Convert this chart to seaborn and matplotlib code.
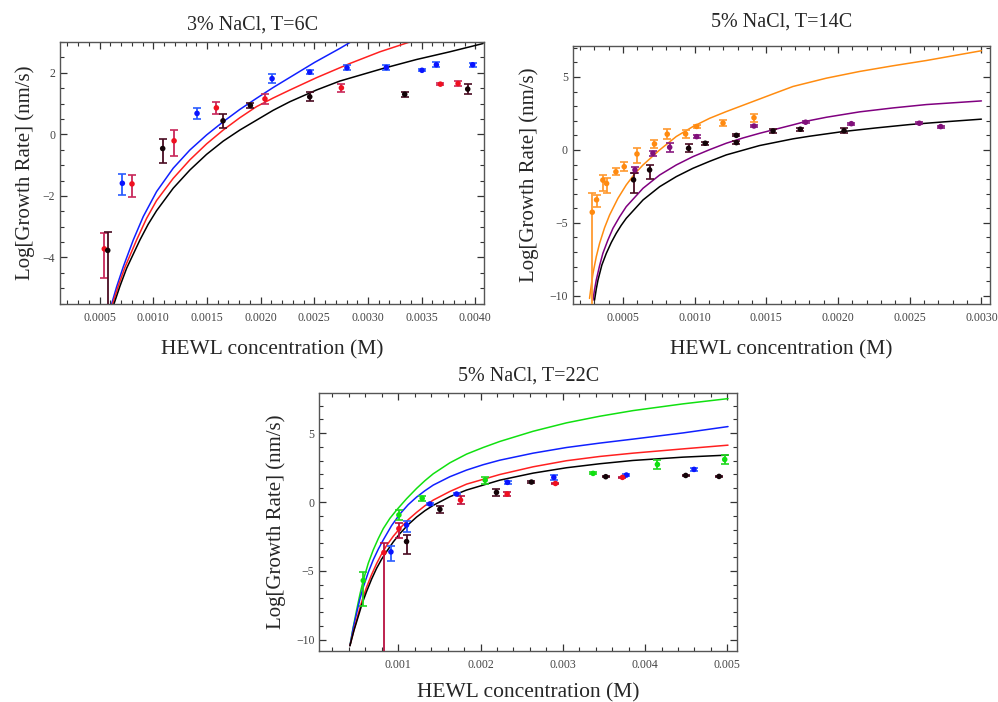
import numpy as np
import pandas as pd
import matplotlib
matplotlib.use("Agg")
import matplotlib.pyplot as plt
from matplotlib.ticker import MultipleLocator, FixedLocator
import seaborn as sns

# ---------------- Panel 1: 3% NaCl, T=6C ----------------
p1_title = "3% NaCl, T=6C"
p1_blue_x = [0.000711, 0.001407, 0.002106, 0.002457, 0.002804, 0.003171, 0.003503, 0.003637, 0.003975]
p1_blue_y = [-1.59, 0.68, 1.81, 2.02, 2.16, 2.17, 2.08, 2.26, 2.26]
p1_blue_lo = [-1.98, 0.49, 1.66, 1.95, 2.08, 2.09, 2.05, 2.18, 2.19]
p1_blue_hi = [-1.29, 0.87, 1.96, 2.09, 2.24, 2.25, 2.11, 2.34, 2.33]

p1_red_x = [0.000543, 0.000801, 0.001193, 0.001587, 0.002040, 0.002752, 0.003674, 0.003839]
p1_red_y = [-3.72, -1.61, -0.21, 0.86, 1.15, 1.51, 1.63, 1.65]
p1_red_lo = [-4.67, -2.02, -0.70, 0.67, 0.99, 1.39, 1.60, 1.57]
p1_red_hi = [-3.21, -1.32, 0.14, 1.05, 1.31, 1.63, 1.66, 1.73]

p1_dark_x = [0.000575, 0.001087, 0.001649, 0.001904, 0.002457, 0.003342, 0.003929]
p1_dark_y = [-3.77, -0.46, 0.44, 0.94, 1.22, 1.30, 1.47]
p1_dark_lo = [-6.0, -0.94, 0.22, 0.86, 1.07, 1.22, 1.31]
p1_dark_hi = [-3.16, -0.16, 0.66, 1.02, 1.37, 1.38, 1.63]

p1_curve_blue_x = [0.000611, 0.000658, 0.000720, 0.000813, 0.000906, 0.001030, 0.001185, 0.001340,
                   0.001496, 0.001651, 0.001806, 0.001961, 0.002116, 0.002272, 0.002504, 0.002737, 0.002839]
p1_curve_blue_y = [-5.51, -4.95, -4.30, -3.43, -2.67, -1.86, -1.10, -0.51,
                   -0.02, 0.41, 0.81, 1.17, 1.52, 1.85, 2.34, 2.79, 3.00]
p1_curve_red_x = [0.000620, 0.000673, 0.000735, 0.000844, 0.000937, 0.001030, 0.001185, 0.001340, 0.001496,
                  0.001651, 0.001806, 0.001961, 0.002116, 0.002272, 0.002520, 0.002830, 0.003110, 0.003389]
p1_curve_red_y = [-5.51, -4.93, -4.32, -3.43, -2.73, -2.15, -1.43, -0.83, -0.31,
                  0.14, 0.54, 0.90, 1.18, 1.44, 1.84, 2.30, 2.68, 3.00]
p1_curve_black_x = [0.000633, 0.000689, 0.000751, 0.000875, 0.000952, 0.001030, 0.001185, 0.001340, 0.001496, 0.001651,
                    0.001806, 0.001961, 0.002116, 0.002272, 0.002520, 0.002737, 0.003140, 0.003451, 0.003761, 0.004072]
p1_curve_black_y = [-5.51, -4.93, -4.35, -3.43, -2.92, -2.48, -1.75, -1.16, -0.65, -0.22,
                    0.14, 0.46, 0.78, 1.06, 1.44, 1.73, 2.14, 2.43, 2.68, 2.95]

p1_xticks = [0.0005, 0.0010, 0.0015, 0.0020, 0.0025, 0.0030, 0.0035, 0.0040]
p1_xticklabels = ["0.0005", "0.0010", "0.0015", "0.0020", "0.0025", "0.0030", "0.0035", "0.0040"]
p1_yticks = [-4, -2, 0, 2]
p1_yticklabels = ["\u22124", "\u22122", "0", "2"]

# ---------------- Panel 2: 5% NaCl, T=14C ----------------
p2_title = "5% NaCl, T=14C"
p2_orange_x = [0.000286, 0.000316, 0.000360, 0.000386, 0.000451, 0.000509, 0.000598, 0.000720, 0.000809, 0.000937, 0.001014, 0.001198, 0.001414]
p2_orange_y = [-4.27, -3.42, -2.07, -2.30, -1.50, -1.15, -0.28, 0.41, 1.08, 1.10, 1.61, 1.84, 2.21]
p2_orange_lo = [-11.0, -3.92, -2.81, -2.94, -1.73, -1.45, -0.92, 0.11, 0.75, 0.80, 1.53, 1.66, 1.93]
p2_orange_hi = [-2.97, -3.07, -1.73, -1.91, -1.27, -0.85, 0.16, 0.71, 1.41, 1.40, 1.69, 2.02, 2.49]

p2_purple_x = [0.000584, 0.000709, 0.000826, 0.001014, 0.001414, 0.001774, 0.002093, 0.002567, 0.002716]
p2_purple_y = [-1.37, -0.23, 0.18, 0.91, 1.64, 1.90, 1.80, 1.83, 1.60]
p2_purple_lo = [-1.57, -0.41, -0.12, 0.83, 1.54, 1.84, 1.72, 1.76, 1.53]
p2_purple_hi = [-1.17, -0.05, 0.48, 0.99, 1.74, 1.96, 1.88, 1.90, 1.67]

p2_dark_x = [0.000574, 0.000686, 0.000958, 0.001074, 0.001291, 0.001291, 0.001547, 0.001737, 0.002042]
p2_dark_y = [-2.05, -1.37, 0.11, 0.46, 1.00, 0.50, 1.30, 1.42, 1.32]
p2_dark_lo = [-2.92, -2.00, -0.17, 0.36, 0.94, 0.38, 1.17, 1.32, 1.17]
p2_dark_hi = [-1.60, -1.03, 0.39, 0.56, 1.06, 0.62, 1.43, 1.52, 1.47]

p2_curve_orange_x = [0.000267, 0.000279, 0.000291, 0.000314, 0.000337, 0.000372, 0.000407, 0.000465, 0.000523,
                     0.000581, 0.000640, 0.000756, 0.000872, 0.000988, 0.001105, 0.001221, 0.001407, 0.001547,
                     0.001686, 0.001919, 0.002151, 0.002384, 0.002616, 0.003000]
p2_curve_orange_y = [-10.18, -9.29, -8.47, -7.32, -6.41, -5.33, -4.46, -3.32, -2.40,
                     -1.65, -1.03, 0.00, 0.92, 1.60, 2.17, 2.63, 3.32, 3.84,
                     4.35, 4.92, 5.38, 5.77, 6.13, 6.80]
p2_curve_purple_x = [0.000291, 0.000302, 0.000314, 0.000337, 0.000360, 0.000395, 0.000430, 0.000477, 0.000523,
                     0.000640, 0.000756, 0.000872, 0.000988, 0.001105, 0.001221, 0.001337, 0.001453, 0.001686,
                     0.001790, 0.001919, 0.002151, 0.002384, 0.002616, 0.003000]
p2_curve_purple_y = [-10.30, -9.57, -8.92, -7.94, -7.09, -6.18, -5.38, -4.58, -3.89,
                     -2.63, -1.72, -1.03, -0.46, 0.02, 0.46, 0.82, 1.14, 1.72,
                     1.99, 2.24, 2.61, 2.88, 3.11, 3.36]
p2_curve_black_x = [0.000302, 0.000314, 0.000326, 0.000353, 0.000384, 0.000419, 0.000453, 0.000488, 0.000523,
                    0.000640, 0.000756, 0.000872, 0.000988, 0.001105, 0.001221, 0.001453, 0.001686,
                    0.001802, 0.002035, 0.002267, 0.002500, 0.002733, 0.003000]
p2_curve_black_y = [-10.30, -9.54, -8.92, -7.89, -7.09, -6.34, -5.72, -5.17, -4.69,
                    -3.43, -2.52, -1.83, -1.26, -0.78, -0.34, 0.30, 0.76,
                    0.94, 1.26, 1.51, 1.74, 1.92, 2.11]

p2_xticks = [0.0005, 0.0010, 0.0015, 0.0020, 0.0025, 0.0030]
p2_xticklabels = ["0.0005", "0.0010", "0.0015", "0.0020", "0.0025", "0.0030"]
p2_yticks = [-10, -5, 0, 5]
p2_yticklabels = ["\u221210", "\u22125", "0", "5"]

# ---------------- Panel 3: 5% NaCl, T=22C ----------------
p3_title = "5% NaCl, T=22C"
p3_green_x = [0.000575, 0.001008, 0.001291, 0.002057, 0.003368, 0.004150, 0.004968]
p3_green_y = [-5.70, -0.94, 0.27, 1.59, 2.08, 2.73, 3.09]
p3_green_lo = [-7.58, -1.30, 0.07, 1.34, 2.00, 2.38, 2.74]
p3_green_hi = [-5.10, -0.58, 0.47, 1.84, 2.16, 3.08, 3.44]

p3_blue_x = [0.000911, 0.001101, 0.001385, 0.001709, 0.002328, 0.002891, 0.003773, 0.004595]
p3_blue_y = [-3.62, -1.67, -0.14, 0.58, 1.43, 1.79, 1.96, 2.37]
p3_blue_lo = [-4.30, -2.15, -0.19, 0.53, 1.33, 1.59, 1.91, 2.27]
p3_blue_hi = [-3.19, -1.35, -0.09, 0.63, 1.53, 1.99, 2.01, 2.47]

p3_red_x = [0.000826, 0.001008, 0.001757, 0.002324, 0.002911, 0.003725]
p3_red_y = [-3.67, -1.93, 0.14, 0.58, 1.35, 1.79]
p3_red_lo = [-12.0, -2.63, -0.16, 0.43, 1.30, 1.74]
p3_red_hi = [-2.95, -1.55, 0.44, 0.73, 1.40, 1.84]

p3_dark_x = [0.001101, 0.001506, 0.002194, 0.002619, 0.003522, 0.004494, 0.004899]
p3_dark_y = [-2.87, -0.53, 0.70, 1.45, 1.84, 1.93, 1.86]
p3_dark_lo = [-3.77, -0.78, 0.45, 1.40, 1.79, 1.88, 1.81]
p3_dark_hi = [-2.39, -0.28, 0.95, 1.50, 1.89, 1.98, 1.91]

p3_curve_green_x = [0.000413, 0.000453, 0.000494, 0.000534, 0.000575, 0.000636, 0.000696, 0.000757, 0.000818,
                    0.000899, 0.000980, 0.001101, 0.001223, 0.001324, 0.001425, 0.001628, 0.001830, 0.002032,
                    0.002235, 0.002640, 0.003045, 0.003449, 0.003854, 0.004462, 0.005008]
p3_curve_green_y = [-10.43, -9.08, -7.85, -6.71, -5.68, -4.44, -3.48, -2.66, -1.93,
                    -1.18, -0.58, 0.24, 0.99, 1.55, 2.05, 2.85, 3.48, 3.96,
                    4.40, 5.14, 5.75, 6.23, 6.64, 7.13, 7.51]
p3_curve_blue_x = [0.000413, 0.000453, 0.000494, 0.000534, 0.000575, 0.000636, 0.000696, 0.000757, 0.000818,
                   0.000919, 0.001020, 0.001121, 0.001223, 0.001324, 0.001425, 0.001628, 0.001830, 0.002032,
                   0.002235, 0.002640, 0.003045, 0.003449, 0.003854, 0.004462, 0.005008]
p3_curve_blue_y = [-10.43, -9.15, -8.07, -7.05, -6.18, -5.10, -4.20, -3.43, -2.75,
                   -1.71, -0.87, -0.19, 0.36, 0.82, 1.23, 1.84, 2.32, 2.71,
                   3.04, 3.55, 3.96, 4.28, 4.57, 5.02, 5.48]
p3_curve_red_x = [0.000413, 0.000462, 0.000514, 0.000563, 0.000615, 0.000676, 0.000737, 0.000798, 0.000858,
                  0.000939, 0.001020, 0.001121, 0.001223, 0.001324, 0.001425, 0.001628, 0.001830,
                  0.002235, 0.002640, 0.003045, 0.003449, 0.003854, 0.004462, 0.005008]
p3_curve_red_y = [-10.43, -9.28, -8.12, -7.10, -6.18, -5.27, -4.47, -3.77, -3.16,
                  -2.49, -1.91, -1.28, -0.75, -0.27, 0.14, 0.77, 1.30,
                  2.00, 2.56, 3.00, 3.31, 3.55, 3.86, 4.13]
p3_curve_black_x = [0.000413, 0.000462, 0.000514, 0.000563, 0.000615, 0.000676, 0.000737, 0.000798, 0.000858,
                    0.000939, 0.001020, 0.001121, 0.001223, 0.001324, 0.001425, 0.001628, 0.001830,
                    0.002235, 0.002640, 0.003045, 0.003449, 0.003854, 0.004462, 0.005008]
p3_curve_black_y = [-10.43, -9.32, -8.31, -7.34, -6.50, -5.60, -4.81, -4.15, -3.60,
                    -2.90, -2.29, -1.64, -1.09, -0.63, -0.24, 0.39, 0.87,
                    1.59, 2.10, 2.49, 2.78, 3.02, 3.26, 3.41]

p3_xticks = [0.001, 0.002, 0.003, 0.004, 0.005]
p3_xticklabels = ["0.001", "0.002", "0.003", "0.004", "0.005"]
p3_yticks = [-10, -5, 0, 5]
p3_yticklabels = ["\u221210", "\u22125", "0", "5"]

xlabel_text = "HEWL concentration (M)"
ylabel_text = "Log[Growth Rate] (nm/s)"

# ---------------- styling ----------------
sns.set_theme(style="ticks")
plt.rcParams["font.family"] = ["Liberation Serif", "DejaVu Serif"]

C_BLUE, C_RED, C_DARK = "#0a14ff", "#f01020", "#140408"
C_GREEN, C_ORANGE, C_PURPLE = "#10e010", "#ff8a10", "#80107a"
E_BLUE, E_RED, E_DARK = "#2a5cff", "#c8285a", "#4a0c22"
E_GREEN, E_ORANGE, E_PURPLE = "#20d820", "#ff9a30", "#8a1a80"

fig = plt.figure(figsize=(9.98, 7.02), dpi=100)
ax1 = fig.add_axes([0.0601, 0.5670, 0.4248, 0.3732])
ax2 = fig.add_axes([0.5739, 0.5670, 0.4181, 0.3680])
ax3 = fig.add_axes([0.3199, 0.0726, 0.4188, 0.3680])


def draw_points(ax, x, y, lo, hi, color, ecolor):
    y = np.asarray(y)
    lo = np.asarray(lo)
    hi = np.asarray(hi)
    ax.errorbar(x, y, yerr=[y - lo, hi - y], fmt="none", ecolor=ecolor,
                elinewidth=1.3, capsize=2.6, capthick=1.2, zorder=3)
    df = pd.DataFrame({"x": x, "y": y})
    sns.scatterplot(data=df, x="x", y="y", ax=ax, color=color, s=16,
                    edgecolor="none", zorder=4, legend=False)


def draw_curve(ax, x, y, color):
    df = pd.DataFrame({"x": x, "y": y})
    sns.lineplot(data=df, x="x", y="y", ax=ax, color=color, lw=1.1,
                 sort=False, estimator=None, zorder=2)


def style_axis(ax, xlim, ylim, xticks, xtl, xminor, yticks, ytl, yminor,
               title, title_x, title_pad, xlab_y, ylab_x):
    ax.set_xlim(*xlim)
    ax.set_ylim(*ylim)
    ax.xaxis.set_major_locator(FixedLocator(xticks))
    ax.set_xticklabels(xtl)
    ax.yaxis.set_major_locator(FixedLocator(yticks))
    ax.set_yticklabels(ytl)
    ax.xaxis.set_minor_locator(MultipleLocator(xminor))
    ax.yaxis.set_minor_locator(MultipleLocator(yminor))
    ax.tick_params(which="both", direction="in", top=True, right=True,
                   colors="#333333", labelcolor="#444444", labelsize=8.5)
    ax.tick_params(which="major", length=5, width=0.9)
    ax.tick_params(which="minor", length=3, width=0.8)
    ax.tick_params(axis="x", pad=6)
    for sp in ax.spines.values():
        sp.set_color("#555555")
        sp.set_linewidth(1.0)
    ax.set_xlabel(xlabel_text, fontsize=15.5)
    ax.set_ylabel(ylabel_text, fontsize=15)
    ax.xaxis.set_label_coords(0.5, xlab_y)
    ax.yaxis.set_label_coords(ylab_x, 0.5)
    ax.set_title(title, fontsize=14.5, x=title_x, pad=title_pad)


# Panel 1
draw_curve(ax1, p1_curve_blue_x, p1_curve_blue_y, "#1020ff")
draw_curve(ax1, p1_curve_red_x, p1_curve_red_y, "#ff2020")
draw_curve(ax1, p1_curve_black_x, p1_curve_black_y, "#000000")
draw_points(ax1, p1_blue_x, p1_blue_y, p1_blue_lo, p1_blue_hi, C_BLUE, E_BLUE)
draw_points(ax1, p1_red_x, p1_red_y, p1_red_lo, p1_red_hi, C_RED, E_RED)
draw_points(ax1, p1_dark_x, p1_dark_y, p1_dark_lo, p1_dark_hi, C_DARK, E_DARK)
style_axis(ax1, (0.00013, 0.00408), (-5.51, 3.0), p1_xticks, p1_xticklabels, 0.0001,
           p1_yticks, p1_yticklabels, 0.5, p1_title, 0.455, 9, -0.14, -0.058)

# Panel 2
draw_curve(ax2, p2_curve_orange_x, p2_curve_orange_y, "#ff8c10")
draw_curve(ax2, p2_curve_purple_x, p2_curve_purple_y, "#800080")
draw_curve(ax2, p2_curve_black_x, p2_curve_black_y, "#000000")
draw_points(ax2, p2_orange_x, p2_orange_y, p2_orange_lo, p2_orange_hi, C_ORANGE, E_ORANGE)
draw_points(ax2, p2_purple_x, p2_purple_y, p2_purple_lo, p2_purple_hi, C_PURPLE, E_PURPLE)
draw_points(ax2, p2_dark_x, p2_dark_y, p2_dark_lo, p2_dark_hi, C_DARK, E_DARK)
style_axis(ax2, (0.00015, 0.00306), (-10.56, 7.15), p2_xticks, p2_xticklabels, 0.0001,
           p2_yticks, p2_yticklabels, 1, p2_title, 0.5, 14, -0.14, -0.08)

# Panel 3
draw_curve(ax3, p3_curve_green_x, p3_curve_green_y, "#10e010")
draw_curve(ax3, p3_curve_blue_x, p3_curve_blue_y, "#1020ff")
draw_curve(ax3, p3_curve_red_x, p3_curve_red_y, "#ff2020")
draw_curve(ax3, p3_curve_black_x, p3_curve_black_y, "#000000")
draw_points(ax3, p3_green_x, p3_green_y, p3_green_lo, p3_green_hi, C_GREEN, E_GREEN)
draw_points(ax3, p3_blue_x, p3_blue_y, p3_blue_lo, p3_blue_hi, C_BLUE, E_BLUE)
draw_points(ax3, p3_red_x, p3_red_y, p3_red_lo, p3_red_hi, C_RED, "#b81040")
draw_points(ax3, p3_dark_x, p3_dark_y, p3_dark_lo, p3_dark_hi, C_DARK, E_DARK)
style_axis(ax3, (0.00004, 0.00512), (-10.82, 7.94), p3_xticks, p3_xticklabels, 0.0002,
           p3_yticks, p3_yticklabels, 1, p3_title, 0.5, 9, -0.125, -0.08)

fig.savefig("out.png", dpi=100, facecolor="white")
